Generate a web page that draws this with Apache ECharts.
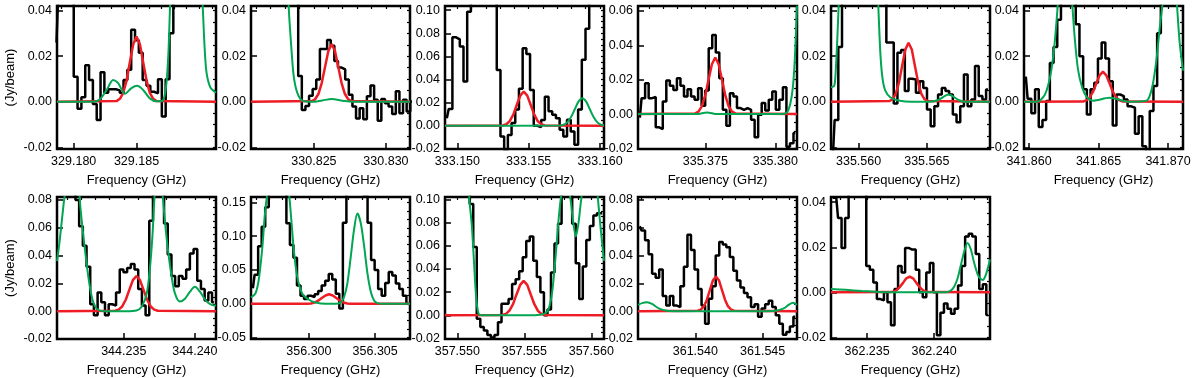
<!DOCTYPE html>
<html><head><meta charset="utf-8">
<script src="https://cdn.jsdelivr.net/npm/echarts@6/dist/echarts.min.js"></script>
<style>html,body{margin:0;padding:0;background:#fff}#c{width:1200px;height:378px}</style>
</head><body><div id="c"></div>
<script>
// ---------- Panel 1 : 329.18 GHz ----------
const p1XRange = [329.17867, 329.19133];
const p1YRange = [-0.0207, 0.0420];
const p1XTicks = [329.180, 329.185];
const p1YTicks = [-0.02, 0.00, 0.02, 0.04];
const p1Start = 329.17863, p1Step = 0.000305;
const p1Obs = [0.026, 0.05, 0.07, 0.07, 0.06, 0.011, -0.003, 0.002, 0.016, 0.0096, -0.001, -0.008, 0.013, 0.004, 0.0055, 0.0055, 0.005, 0.004, 0.0096, 0.014, 0.0316, 0.027, 0.0215, 0.0096, 0.007, 0.0044, 0.0037, 0.0099, -0.0064, 0.0099, 0.030, 0.06, 0.08, 0.1, 0.12, 0.12, 0.1, 0.09, 0.08, 0.07, 0.06, 0.06, 0.05];
const p1Fit = [[329.17867,0],[329.18341,0.0003],[329.18368,0.0013],[329.18394,0.0039],[329.18421,0.0093],[329.18447,0.0173],[329.18474,0.0252],[329.18500,0.0286],[329.18527,0.0252],[329.18553,0.0173],[329.18580,0.0093],[329.18606,0.0039],[329.18633,0.0013],[329.18659,0.0003],[329.19133,0]];
const p1Model = [[329.17867,0],[329.18154,0],[329.18207,0.001],[329.18261,0.005],[329.18314,0.0096],[329.18354,0.0082],[329.18407,0.0035],[329.18460,0.006],[329.18505,0.007],[329.18553,0.0052],[329.18606,0.0015],[329.18660,0.0002],[329.18708,0.0005],[329.18734,0.006],[329.18753,0.02],[329.18766,0.04],[329.18779,0.06],[329.18899,0.12],[329.19005,0.065],[329.19027,0.042],[329.19053,0.015],[329.19085,0.0067],[329.19133,0.004]];

// ---------- Panel 2 : 330.83 GHz ----------
const p2XRange = [330.82063, 330.83167];
const p2YRange = [-0.0207, 0.0420];
const p2XTicks = [330.825, 330.830];
const p2YTicks = [-0.02, 0.00, 0.02, 0.04];
const p2Start = 330.82077, p2Step = 0.000251;
const p2Obs = [0.1, 0.15, 0.2, 0.25, 0.3, 0.3, 0.25, 0.2, 0.15, 0.12, 0.1, 0.08, 0.06, 0.0113, -0.0036, -0.0018, 0.0027, 0.0056, 0.0098, 0.0231, 0.0231, 0.0271, 0.0246, 0.0179, 0.0150, 0.0142, 0.0098, 0.0031, -0.0021, -0.0073, -0.0028, -0.0077, 0.0024, 0.0071, 0.0009, -0.0083, 0.0012, -0.0006, -0.0021, -0.0053, 0.0046, -0.0050, 0.0009, -0.0043, 0.0001];
const p2Fit = [[330.82063,0],[330.82485,0.0003],[330.82508,0.0011],[330.82531,0.0034],[330.82554,0.0082],[330.82577,0.0153],[330.82600,0.0223],[330.82623,0.0253],[330.82646,0.0223],[330.82669,0.0153],[330.82692,0.0082],[330.82715,0.0034],[330.82738,0.0011],[330.82761,0.0003],[330.83167,0]];
const p2Model = [[330.82063,0.2],[330.82314,0.06],[330.82326,0.04],[330.82344,0.023],[330.82360,0.011],[330.82384,0.004],[330.82419,0.0005],[330.82488,0],[330.82558,0.0006],[330.82623,0.0012],[330.82698,0.0005],[330.82767,0],[330.83167,0]];

// ---------- Panel 3 : 333.15 GHz ----------
const p3XRange = [333.14913, 333.16028];
const p3YRange = [-0.0201, 0.1036];
const p3XTicks = [333.150, 333.155, 333.160];
const p3YTicks = [-0.02, 0.00, 0.02, 0.04, 0.06, 0.08, 0.10];
const p3Start = 333.14926, p3Step = 0.0002593;
const p3Obs = [0.0066, 0.0144, 0.0765, 0.0748, 0.0685, 0.0383, 0.0987, 0.12, 0.15, 0.2, 0.2, 0.18, 0.15, 0.12, 0.0483, -0.0092, -0.021, -0.008, 0.0023, 0.014, 0.032, 0.067, 0.062, 0.031, 0.0, -0.0012, 0.005, 0.025, 0.0125, 0.0095, 0.0066, -0.0035, -0.0092, 0.0052, -0.0049, -0.0164, 0.014, 0.057, 0.084, 0.12, 0.14, 0.15, 0.15];
const p3Fit = [[333.14913,0],[333.15318,0.0003],[333.15343,0.0013],[333.15367,0.0040],[333.15392,0.0096],[333.15416,0.0180],[333.15441,0.0261],[333.15465,0.0296],[333.15490,0.0261],[333.15514,0.0180],[333.15539,0.0096],[333.15563,0.0040],[333.15588,0.0013],[333.15612,0.0003],[333.16028,0]];
const p3Model = [[333.14913,0],[333.15720,0.0003],[333.15746,0.001],[333.15772,0.0032],[333.15798,0.0078],[333.15824,0.0145],[333.15850,0.0211],[333.15876,0.0239],[333.15902,0.0211],[333.15928,0.0145],[333.15954,0.0078],[333.15980,0.0032],[333.16006,0.001],[333.16028,0.0004]];

// ---------- Panel 4 : 335.38 GHz ----------
const p4XRange = [335.37019, 335.38155];
const p4YRange = [-0.0203, 0.0629];
const p4XTicks = [335.375, 335.380];
const p4YTicks = [-0.02, 0.00, 0.02, 0.04, 0.06];
const p4Start = 335.37032, p4Step = 0.0002524;
const p4Obs = [-0.002, 0.0093, 0.018, 0.0093, 0.010, -0.0077, -0.0087, 0.0074, 0.0195, 0.0165, 0.0141, 0.0209, 0.0165, 0.0103, 0.0145, 0.0103, 0.0083, 0.0151, 0.0048, 0.0137, 0.0383, 0.046, 0.0358, 0.0209, 0.0025, -0.0068, 0.0122, 0.0103, 0.0035, 0.0025, 0.0035, 0.0025, -0.0033, -0.0134, -0.0004, 0.0064, 0.0021, 0.0083, 0.0132, 0.0025, 0.0083, 0.0157, -0.019, -0.017, -0.011];
const p4Fit = [[335.37019,0],[335.37427,0.0004],[335.37451,0.0014],[335.37475,0.0045],[335.37499,0.0107],[335.37523,0.0200],[335.37547,0.0290],[335.37571,0.0329],[335.37595,0.0290],[335.37619,0.0200],[335.37643,0.0107],[335.37667,0.0045],[335.37691,0.0014],[335.37715,0.0004],[335.38155,0]];
const p4Model = [[335.37019,0],[335.37440,0],[335.37512,0.001],[335.37583,0],[335.38036,0],[335.38083,0.001],[335.38107,0.006],[335.38126,0.016],[335.38140,0.033],[335.38155,0.063]];

// ---------- Panel 5 : 335.56 GHz ----------
const p5XRange = [335.55798, 335.56963];
const p5YRange = [-0.0207, 0.0420];
const p5XTicks = [335.560, 335.565];
const p5YTicks = [-0.02, 0.00, 0.02, 0.04];
const p5Start = 335.55811, p5Step = 0.0002707;
const p5Obs = [-0.025, -0.008, 0.024, 0.06, 0.08, 0.1, 0.12, 0.14, 0.15, 0.15, 0.14, 0.12, 0.1, 0.08, 0.05, 0.026, 0.026, -0.0007, 0.0215, 0.0227, 0.0047, 0.0101, 0.0098, 0.004, 0.009, 0.006, -0.0034, -0.0107, -0.002, 0.0032, 0.006, 0.0047, 0.0032, -0.0056, -0.009, -0.002, 0.012, -0.002, 0.001, 0.0157, 0.0025, 0.001, 0.0054];
const p5Fit = [[335.55798,0],[335.56225,0.0003],[335.56249,0.0011],[335.56272,0.0035],[335.56296,0.0084],[335.56319,0.0157],[335.56343,0.0229],[335.56366,0.0259],[335.56390,0.0229],[335.56413,0.0157],[335.56437,0.0084],[335.56460,0.0035],[335.56484,0.0011],[335.56507,0.0003],[335.56963,0]];
const p5Model = [[335.55798,0.0064],[335.55822,0.007],[335.55834,0.015],[335.55846,0.03],[335.55856,0.045],[335.55976,0.2],[335.56134,0.06],[335.56146,0.04],[335.56161,0.02],[335.56176,0.01],[335.56195,0.005],[335.56232,0.002],[335.56293,0.0006],[335.56390,0],[335.56512,0],[335.56585,0.0008],[335.56659,0.0032],[335.56732,0.0008],[335.56780,0],[335.56963,0]];

// ---------- Panel 6 : 341.865 GHz ----------
const p6XRange = [341.85964, 341.87108];
const p6YRange = [-0.0207, 0.0420];
const p6XTicks = [341.860, 341.865, 341.870];
const p6YTicks = [-0.02, 0.00, 0.02, 0.04];
const p6Start = 341.85977, p6Step = 0.0002662;
const p6Obs = [0.011, 0.0013, -0.005, 0.0055, -0.011, -0.008, 0.0003, 0.017, 0.024, 0.036, 0.05, 0.06, 0.06, 0.05, 0.034, 0.02, 0.0055, -0.0056, 0.0055, 0.0084, 0.019, 0.026, 0.019, 0.009, -0.0104, 0.0032, 0.0025, 0.001, -0.002, -0.0026, -0.014, -0.0063, -0.0195, -0.025, -0.004, 0.0069, 0.03, 0.06, 0.08, 0.1, 0.1, 0.08, 0.06];
const p6Fit = [[341.85964,0],[341.86388,0.0001],[341.86412,0.0006],[341.86436,0.0018],[341.86460,0.0043],[341.86484,0.0080],[341.86508,0.0116],[341.86532,0.0132],[341.86556,0.0116],[341.86580,0.0080],[341.86604,0.0043],[341.86628,0.0018],[341.86652,0.0006],[341.86676,0.0001],[341.87108,0]];
const p6Model = [[341.85964,0],[341.86053,0],[341.86077,0.0005],[341.86113,0.003],[341.86137,0.007],[341.86161,0.014],[341.86185,0.026],[341.86204,0.04],[341.86221,0.055],[341.86257,0.08],[341.86293,0.06],[341.86309,0.045],[341.86329,0.028],[341.86353,0.014],[341.86384,0.006],[341.86417,0.002],[341.86460,0.0005],[341.86580,0.0018],[341.86724,0],[341.86844,0.0005],[341.86868,0.0025],[341.86892,0.008],[341.86916,0.018],[341.86940,0.032],[341.86959,0.042],[341.86976,0.055],[341.87012,0.08],[341.87048,0.055],[341.87065,0.042],[341.87084,0.026],[341.87108,0.0137]];

// ---------- Panel 7 : 344.235 GHz ----------
const p7XRange = [344.23031, 344.24148];
const p7YRange = [-0.0200, 0.0821];
const p7XTicks = [344.235, 344.240];
const p7YTicks = [-0.02, 0.00, 0.02, 0.04, 0.06, 0.08];
const p7Start = 344.23044, p7Step = 0.0002593;
const p7Obs = [0.1, 0.12, 0.12, 0.11, 0.095, 0.08, 0.061, 0.047, 0.032, 0.005, -0.003, 0.0135, 0.0064, -0.003, 0.005, 0.004, 0.0135, 0.030, 0.028, 0.031, 0.034, 0.030, 0.016, 0.004, -0.003, 0.065, 0.1, 0.12, 0.1, 0.063, 0.0407, 0.0253, 0.018, 0.0253, 0.0234, 0.030, 0.0414, 0.0448, 0.0218, 0.0159, 0.0076, 0.0135, 0.0064];
const p7Fit = [[344.23031,0],[344.23439,0.0003],[344.23464,0.0011],[344.23489,0.0034],[344.23514,0.0082],[344.23539,0.0153],[344.23564,0.0223],[344.23589,0.0253],[344.23614,0.0223],[344.23639,0.0153],[344.23664,0.0082],[344.23689,0.0034],[344.23714,0.0011],[344.23739,0.0003],[344.24148,0]];
const p7Model = [[344.23031,0.036],[344.23049,0.05],[344.23068,0.068],[344.23085,0.083],[344.23132,0.11],[344.23178,0.095],[344.23195,0.075],[344.23214,0.056],[344.23237,0.036],[344.23261,0.018],[344.23284,0.007],[344.23308,0.002],[344.23354,0],[344.23519,0],[344.23589,0.0005],[344.23624,0.003],[344.23660,0.012],[344.23683,0.03],[344.23702,0.055],[344.23718,0.085],[344.23746,0.11],[344.23772,0.085],[344.23789,0.065],[344.23812,0.043],[344.23836,0.025],[344.23859,0.013],[344.23894,0.0069],[344.23930,0.009],[344.23965,0.014],[344.24000,0.0175],[344.24035,0.014],[344.24082,0.007],[344.24117,0.0045],[344.24148,0.004]];

// ---------- Panel 8 : 356.30 GHz ----------
const p8XRange = [356.29563, 356.30763];
const p8YRange = [-0.052, 0.158];
const p8XTicks = [356.300, 356.305];
const p8YTicks = [-0.05, 0.00, 0.05, 0.10, 0.15];
const p8Start = 356.29577, p8Step = 0.0002664;
const p8Obs = [0.023, 0.043, 0.085, 0.114, 0.143, 0.2, 0.25, 0.3, 0.25, 0.2, 0.119, 0.087, 0.068, 0.027, 0.012, 0.007, 0.012, 0.010, 0.014, 0.019, 0.027, 0.034, 0.044, 0.036, 0.015, -0.007, 0.12, 0.2, 0.25, 0.22, 0.2, 0.18, 0.16, 0.12, 0.065, 0.05, 0.022, 0.012, 0.031, 0.047, 0.042, 0.030, 0.022, 0.012, 0.0];
const p8Fit = [[356.29563,0],[356.29987,0.0002],[356.30015,0.0006],[356.30042,0.0019],[356.30070,0.0046],[356.30097,0.0086],[356.30125,0.0124],[356.30152,0.0141],[356.30180,0.0124],[356.30207,0.0086],[356.30235,0.0046],[356.30262,0.0019],[356.30290,0.0006],[356.30317,0.0002],[356.30763,0]];
const p8Model = [[356.29563,0.0097],[356.29596,0.015],[356.29621,0.035],[356.29647,0.08],[356.29667,0.13],[356.29684,0.16],[356.29760,0.25],[356.29836,0.18],[356.29854,0.155],[356.29869,0.12],[356.29886,0.08],[356.29912,0.04],[356.29950,0.015],[356.30000,0.006],[356.30050,0.002],[356.30126,0],[356.30202,0],[356.30240,0.002],[356.30265,0.01],[356.30290,0.03],[356.30316,0.07],[356.30341,0.11],[356.30366,0.1335],[356.30391,0.12],[356.30417,0.085],[356.30442,0.045],[356.30467,0.018],[356.30492,0.005],[356.30518,0.001],[356.30556,0],[356.30763,0]];

// ---------- Panel 9 : 357.555 GHz ----------
const p9XRange = [357.54908, 357.56095];
const p9YRange = [-0.0204, 0.102];
const p9XTicks = [357.550, 357.555, 357.560];
const p9YTicks = [-0.02, 0.00, 0.02, 0.04, 0.06, 0.08, 0.10];
const p9Start = 357.54921, p9Step = 0.0002638;
const p9Obs = [0.15, 0.18, 0.2, 0.2, 0.18, 0.15, 0.12, 0.096, 0.059, -0.003, -0.010, -0.013, -0.017, -0.019, -0.017, -0.006, 0.010, 0.0099, 0.014, 0.027, 0.031, 0.038, 0.050, 0.064, 0.068, 0.047, 0.033, 0.020, 0.0, 0.005, 0.037, 0.062, 0.079, 0.12, 0.13, 0.12, 0.079, 0.045, 0.014, 0.042, 0.065, 0.077, 0.086, 0.088, 0.088];
const p9Fit = [[357.54908,0],[357.55336,0.0003],[357.55363,0.0013],[357.55389,0.0040],[357.55416,0.0096],[357.55442,0.0180],[357.55469,0.0262],[357.55495,0.0297],[357.55522,0.0262],[357.55548,0.0180],[357.55575,0.0096],[357.55601,0.0040],[357.55628,0.0013],[357.55654,0.0003],[357.56095,0]];
const p9Model = [[357.54908,0.2],[357.55070,0.15],[357.55090,0.1],[357.55108,0.078],[357.55125,0.045],[357.55140,0.017],[357.55158,0.0015],[357.55183,0],[357.55520,0],[357.55620,0.0005],[357.55658,0.002],[357.55683,0.006],[357.55708,0.02],[357.55733,0.05],[357.55758,0.085],[357.55778,0.105],[357.55808,0.12],[357.55845,0.1],[357.55865,0.08],[357.55885,0.068],[357.55905,0.08],[357.55925,0.1],[357.55970,0.13],[357.56033,0.12],[357.56050,0.1],[357.56070,0.075],[357.56095,0.047]];

// ---------- Panel 10 : 361.54 GHz ----------
const p10XRange = [361.53574, 361.54755];
const p10YRange = [-0.0200, 0.0821];
const p10XTicks = [361.540, 361.545];
const p10YTicks = [-0.02, 0.00, 0.02, 0.04, 0.06, 0.08];
const p10Start = 361.53587, p10Step = 0.0002624;
const p10Obs = [0.061, 0.058, 0.051, 0.041, 0.027, 0.024, 0.030, 0.011, 0.004, 0.011, 0.004, 0.003, 0.018, 0.032, 0.055, 0.044, 0.030, 0.016, 0.004, -0.009, 0.009, 0.018, 0.040, 0.0497, 0.048, 0.046, 0.039, 0.029, 0.022, 0.017, 0.013, 0.010, 0.003, 0.005, -0.004, 0.002, 0.005, 0.0075, 0.003, -0.003, -0.009, -0.017, -0.015, -0.011, -0.004];
const p10Fit = [[361.53574,0],[361.54018,0.0003],[361.54040,0.0011],[361.54063,0.0034],[361.54085,0.0081],[361.54108,0.0151],[361.54130,0.0220],[361.54153,0.0249],[361.54176,0.0220],[361.54198,0.0151],[361.54221,0.0081],[361.54243,0.0034],[361.54266,0.0011],[361.54288,0.0003],[361.54755,0]];
const p10Model = [[361.53574,0.0045],[361.53604,0.0058],[361.53641,0.0064],[361.53678,0.0052],[361.53728,0.002],[361.53790,0.0003],[361.53864,0],[361.54532,0],[361.54606,0.0005],[361.54656,0.002],[361.54693,0.0045],[361.54725,0.006],[361.54755,0.0045]];

// ---------- Panel 11 : 362.24 GHz ----------
const p11XRange = [362.23230, 362.24418];
const p11YRange = [-0.0207, 0.0423];
const p11XTicks = [362.235, 362.240];
const p11YTicks = [-0.02, 0.00, 0.02, 0.04];
const p11Start = 362.23243, p11Step = 0.0002638;
const p11Obs = [0.042, 0.042, 0.033, 0.0197, 0.033, 0.045, 0.05, 0.05, 0.05, 0.045, 0.0117, 0.010, 0.0044, -0.003, -0.0036, 0.0, -0.0044, -0.0146, 0.0015, 0.0117, 0.0088, 0.0197, 0.019, 0.019, 0.010, 0.0, -0.0022, 0.0088, 0.013, 0.0, -0.019, -0.009, -0.005, -0.0073, -0.0095, -0.0073, 0.003, 0.0117, 0.0248, 0.026, 0.0248, 0.017, 0.0015, 0.0036, -0.010];
const p11Fit = [[362.23230,0],[362.23668,0.0001],[362.23693,0.0003],[362.23718,0.0009],[362.23743,0.0023],[362.23768,0.0042],[362.23793,0.0062],[362.23818,0.0070],[362.23843,0.0062],[362.23868,0.0042],[362.23893,0.0023],[362.23918,0.0009],[362.23943,0.0003],[362.23968,0.0001],[362.24418,0]];
const p11Model = [[362.23230,0.0015],[362.23338,0.0011],[362.23463,0.0006],[362.23588,0.0002],[362.23713,0],[362.24088,0],[362.24125,0.0008],[362.24150,0.0025],[362.24175,0.006],[362.24200,0.012],[362.24225,0.018],[362.24250,0.0219],[362.24275,0.019],[362.24300,0.013],[362.24333,0.007],[362.24363,0.0055],[362.24388,0.008],[362.24418,0.0146]];

const yName = '(Jy/beam)';
const xName = 'Frequency (GHz)';

// ---------- build ----------
const panels = [
  {xr:p1XRange, yr:p1YRange, xt:p1XTicks, yt:p1YTicks, s:p1Start, d:p1Step, obs:p1Obs, fit:p1Fit, mod:p1Model},
  {xr:p2XRange, yr:p2YRange, xt:p2XTicks, yt:p2YTicks, s:p2Start, d:p2Step, obs:p2Obs, fit:p2Fit, mod:p2Model},
  {xr:p3XRange, yr:p3YRange, xt:p3XTicks, yt:p3YTicks, s:p3Start, d:p3Step, obs:p3Obs, fit:p3Fit, mod:p3Model},
  {xr:p4XRange, yr:p4YRange, xt:p4XTicks, yt:p4YTicks, s:p4Start, d:p4Step, obs:p4Obs, fit:p4Fit, mod:p4Model},
  {xr:p5XRange, yr:p5YRange, xt:p5XTicks, yt:p5YTicks, s:p5Start, d:p5Step, obs:p5Obs, fit:p5Fit, mod:p5Model},
  {xr:p6XRange, yr:p6YRange, xt:p6XTicks, yt:p6YTicks, s:p6Start, d:p6Step, obs:p6Obs, fit:p6Fit, mod:p6Model},
  {xr:p7XRange, yr:p7YRange, xt:p7XTicks, yt:p7YTicks, s:p7Start, d:p7Step, obs:p7Obs, fit:p7Fit, mod:p7Model},
  {xr:p8XRange, yr:p8YRange, xt:p8XTicks, yt:p8YTicks, s:p8Start, d:p8Step, obs:p8Obs, fit:p8Fit, mod:p8Model},
  {xr:p9XRange, yr:p9YRange, xt:p9XTicks, yt:p9YTicks, s:p9Start, d:p9Step, obs:p9Obs, fit:p9Fit, mod:p9Model},
  {xr:p10XRange, yr:p10YRange, xt:p10XTicks, yt:p10YTicks, s:p10Start, d:p10Step, obs:p10Obs, fit:p10Fit, mod:p10Model},
  {xr:p11XRange, yr:p11YRange, xt:p11XTicks, yt:p11YTicks, s:p11Start, d:p11Step, obs:p11Obs, fit:p11Fit, mod:p11Model}
];

const FONT = '"Liberation Sans", Arial, Helvetica, sans-serif';
const lefts = [57, 251, 445, 638, 831, 1024];
const tops = [6, 197];
const H = [143, 144];
const W = 159;

function minorVals(r, step) {
  const out = [];
  const k0 = Math.ceil(r[0] / step - 1e-6), k1 = Math.floor(r[1] / step + 1e-6);
  for (let k = k0; k <= k1; k++) out.push(+(k * step).toFixed(6));
  return out;
}

const grid = [], xAxis = [], yAxis = [], series = [];
panels.forEach((p, i) => {
  const row = i < 6 ? 0 : 1, col = i < 6 ? i : i - 6;
  grid.push({left: lefts[col], top: tops[row], width: W, height: H[row], show: true,
    borderColor: '#000', borderWidth: 2.5, backgroundColor: 'transparent'});
  const yStep = (p.yt[1] - p.yt[0]) / 4;
  xAxis.push({type: 'value', gridIndex: i, min: p.xr[0], max: p.xr[1], position: 'bottom',
    axisLine: {show: false, onZero: false}, splitLine: {show: false},
    axisTick: {show: true, inside: true, length: 6, customValues: p.xt, lineStyle: {color: '#000', width: 1.5}},
    axisLabel: {customValues: p.xt, formatter: v => v.toFixed(3), color: '#000', fontSize: 12.5, fontFamily: FONT, margin: 6},
    name: xName, nameLocation: 'middle', nameGap: 25,
    nameTextStyle: {color: '#000', fontSize: 13, fontFamily: FONT}});
  xAxis.push({type: 'value', gridIndex: i, min: p.xr[0], max: p.xr[1], position: 'top',
    axisLine: {show: false, onZero: false}, splitLine: {show: false}, axisLabel: {show: false},
    axisTick: {show: true, inside: true, length: 3, customValues: minorVals(p.xr, 0.001), lineStyle: {color: '#000', width: 1.2}}});
  yAxis.push({type: 'value', gridIndex: i, min: p.yr[0], max: p.yr[1], position: 'left',
    axisLine: {show: false, onZero: false}, splitLine: {show: false},
    axisTick: {show: true, inside: true, length: 6, customValues: p.yt, lineStyle: {color: '#000', width: 1.5}},
    axisLabel: {customValues: p.yt, formatter: v => v.toFixed(2), color: '#000', fontSize: 12.5, fontFamily: FONT, margin: 5},
    name: col === 0 ? yName : '', nameLocation: 'middle', nameGap: 40, nameRotate: 90,
    nameTextStyle: {color: '#000', fontSize: 13, fontFamily: FONT}});
  yAxis.push({type: 'value', gridIndex: i, min: p.yr[0], max: p.yr[1], position: 'right',
    axisLine: {show: false, onZero: false}, splitLine: {show: false}, axisLabel: {show: false},
    axisTick: {show: true, inside: true, length: 3, customValues: minorVals(p.yr, yStep), lineStyle: {color: '#000', width: 1.2}}});
  const xi = 2 * i, yi = 2 * i;
  series.push({type: 'line', xAxisIndex: xi, yAxisIndex: yi, step: 'middle', showSymbol: false, clip: true,
    data: p.obs.map((v, k) => [p.s + k * p.d, v]), lineStyle: {color: '#000', width: 2.5}, z: 2, silent: true});
  series.push({type: 'line', xAxisIndex: xi, yAxisIndex: yi, showSymbol: false, clip: true,
    data: p.fit, lineStyle: {color: '#ee1c24', width: 2.5}, z: 3, silent: true});
  series.push({type: 'line', xAxisIndex: xi, yAxisIndex: yi, showSymbol: false, clip: true, smooth: 0.3,
    data: p.mod, lineStyle: {color: '#00a651', width: 2}, z: 4, silent: true});
});

const chart = echarts.init(document.getElementById('c'), null, {renderer: 'canvas'});
chart.setOption({animation: false, backgroundColor: '#fff', grid, xAxis, yAxis, series});
</script>
</body></html>
